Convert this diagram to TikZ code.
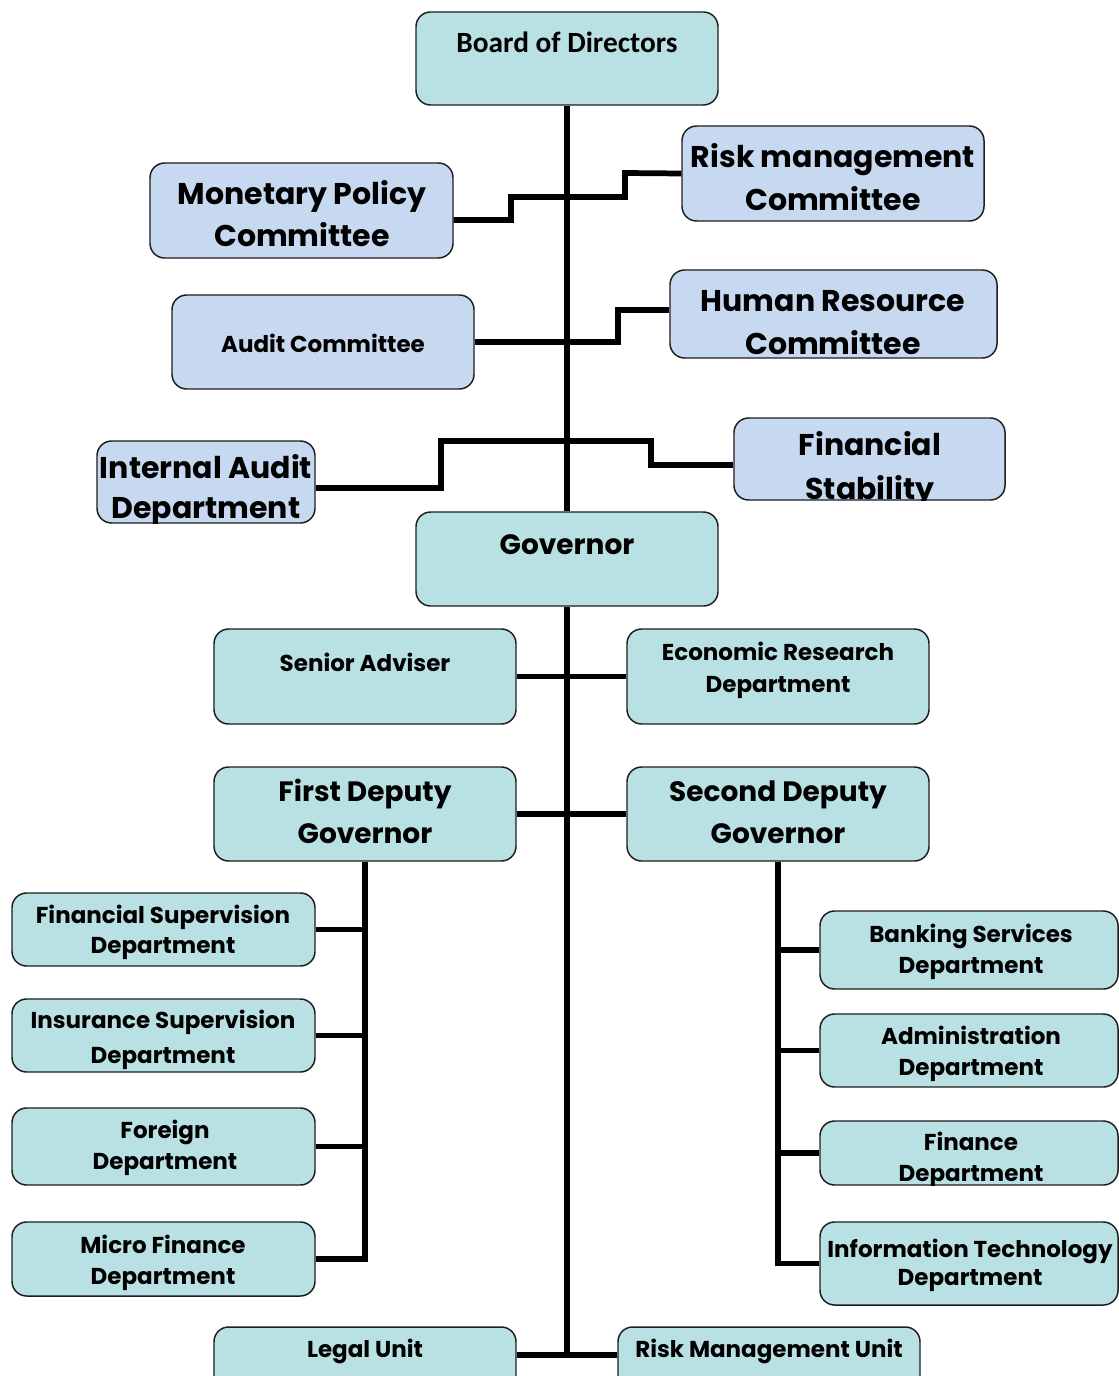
\documentclass[tikz,border=0pt]{standalone}
\usepackage{fontspec}
\setmainfont{Poppins}
\newfontfamily\calib{Carlito}[BoldFont={Carlito Bold}]
\usetikzlibrary{fit}
\definecolor{teal}{RGB}{185,224,227}
\definecolor{lblue}{RGB}{198,217,240}
\definecolor{edge}{RGB}{30,30,30}
\tikzset{
  obox/.style={draw=edge, line width=1.1pt, rounded corners=11pt, inner sep=0pt},
  tbox/.style={obox, fill=teal},
  bbox/.style={obox, fill=lblue},
  conn/.style={line width=4.3pt, black},
  txt/.style={anchor=base, inner sep=0pt},
  fL/.style={font=\fontsize{22.5}{27}\selectfont\bfseries},
  fM/.style={font=\fontsize{21}{25}\selectfont\bfseries},
  fS/.style={font=\fontsize{17.25}{21}\selectfont\bfseries},
  fB/.style={font=\calib\bfseries\fontsize{22}{26}\selectfont},
}
\newcommand\mkbox[6]{\node[#6, fit={(#2,#3)(#4,#5)}] (#1) {};}
\newcommand\clipbox[1]{\clip[rounded corners=11pt] (#1.south west) rectangle (#1.north east);}
\begin{document}
\begin{tikzpicture}[x=0.75pt,y=-0.75pt]
\clip (0,0) rectangle (1119,1376);
\fill[white] (0,0) rectangle (1119,1376);
% boxes
\mkbox{board}{416}{12}{718}{105}{tbox}
\mkbox{mp}{150}{163}{453}{258}{bbox}
\mkbox{risk}{682}{126}{984}{221}{bbox}
\mkbox{audit}{172}{295}{474}{389}{bbox}
\mkbox{hr}{670}{270}{997}{358}{bbox}
\mkbox{ia}{97}{441}{315}{523}{bbox}
\mkbox{fs}{734}{418}{1005}{500}{bbox}
\mkbox{gov}{416}{512}{718}{606}{tbox}
\mkbox{sa}{214}{629}{516}{724}{tbox}
\mkbox{er}{627}{629}{929}{724}{tbox}
\mkbox{fdg}{214}{767}{516}{861}{tbox}
\mkbox{sdg}{627}{767}{929}{861}{tbox}
\mkbox{fsd}{12}{893}{315}{966}{tbox}
\mkbox{isd}{12}{999}{315}{1072}{tbox}
\mkbox{fd}{12}{1108}{315}{1185}{tbox}
\mkbox{mfd}{12}{1222}{315}{1296}{tbox}
\mkbox{bsd}{820}{911}{1118}{989}{tbox}
\mkbox{ad}{820}{1014}{1118}{1087}{tbox}
\mkbox{fin}{820}{1121}{1118}{1185}{tbox}
\mkbox{it}{820}{1222}{1118}{1305}{tbox}
\mkbox{legal}{214}{1327}{516}{1400}{tbox}
\mkbox{rmu}{618}{1327}{920}{1400}{tbox}
% texts
\node[txt,fB] (board-t) at (567,53) {Board of Directors};
\node[txt,fL] (mp-t1) at (302,205) {Monetary Policy};
\node[txt,fL] (mp-t2) at (302,247) {Committee};
\node[txt,fL] (risk-t1) at (833,168) {Risk management};
\node[txt,fL] (risk-t2) at (833,211) {Committee};
\node[txt,fS] (audit-t) at (323,352) {Audit Committee};
\node[txt,fL] (hr-t1) at (833,311) {Human Resource};
\node[txt,fL] (hr-t2) at (833,354) {Committee};
\begin{scope}
\clipbox{ia}
\node[txt,fL] (ia-t1) at (206,478) {Internal Audit};
\node[txt,fL] (ia-t2) at (206,518) {Department};
\end{scope}
\begin{scope}
\clipbox{fs}
\node[txt,fL] (fs-t1) at (870,455) {Financial};
\node[txt,fL] (fs-t2) at (870,499) {Stability};
\end{scope}
\node[txt,fM] (gov-t) at (567,554) {Governor};
\node[txt,fS] (sa-t) at (365,671) {Senior Adviser};
\node[txt,fS] (er-t1) at (778,660) {Economic Research};
\node[txt,fS] (er-t2) at (778,692) {Department};
\node[txt,fM] (fdg-t1) at (365,801) {First Deputy};
\node[txt,fM] (fdg-t2) at (365,843) {Governor};
\node[txt,fM] (sdg-t1) at (778,801) {Second Deputy};
\node[txt,fM] (sdg-t2) at (778,843) {Governor};
\node[txt,fS] (fsd-t1) at (163,923) {Financial Supervision};
\node[txt,fS] (fsd-t2) at (163,953) {Department};
\node[txt,fS] (isd-t1) at (163,1028) {Insurance Supervision};
\node[txt,fS] (isd-t2) at (163,1063) {Department};
\node[txt,fS] (fd-t1) at (165,1138) {Foreign};
\node[txt,fS] (fd-t2) at (165,1169) {Department};
\node[txt,fS] (mfd-t1) at (163,1253) {Micro Finance};
\node[txt,fS] (mfd-t2) at (163,1284) {Department};
\node[txt,fS] (bsd-t1) at (971,942) {Banking Services};
\node[txt,fS] (bsd-t2) at (971,973) {Department};
\node[txt,fS] (ad-t1) at (971,1044) {Administration};
\node[txt,fS] (ad-t2) at (971,1075) {Department};
\begin{scope}
\clipbox{fin}
\node[txt,fS] (fin-t1) at (971,1150) {Finance};
\node[txt,fS] (fin-t2) at (971,1181) {Department};
\end{scope}
\node[txt,fS] (it-t1) at (970,1257) {Information Technology};
\node[txt,fS] (it-t2) at (970,1285) {Department};
\node[txt,fS] (legal-t) at (365,1357) {Legal Unit};
\node[txt,fS] (rmu-t) at (769,1357) {Risk Management Unit};
% connectors
\coordinate (bj) at (567,1355);
\draw[conn] (board.south) -- (gov.north);
\draw[conn] (gov.south) -- (bj);
\draw[conn] (legal.east |- bj) -- (rmu.west |- bj);
\draw[conn] ([yshift=-7.1pt]mp.east) -| (511,197) -| (625,173) -- (risk.west);
\draw[conn] (audit.east) -| (618,310) -- ([yshift=3pt]hr.west);
\draw[conn] ([yshift=-4.5pt]ia.east) -| (441,441) -| (651,465) -- ([yshift=-4.5pt]fs.west);
\draw[conn] (sa.east) -- (er.west);
\draw[conn] (fdg.east) -- (sdg.west);
\draw[conn] (fdg.south) |- (mfd.east);
\draw[conn] (fsd.east) -- (fsd.east -| fdg.south);
\draw[conn] (isd.east) -- (isd.east -| fdg.south);
\draw[conn] (fd.east) -- (fd.east -| fdg.south);
\draw[conn] (sdg.south) |- (it.west);
\draw[conn] (bsd.west) -- (bsd.west -| sdg.south);
\draw[conn] (ad.west) -- (ad.west -| sdg.south);
\draw[conn] (fin.west) -- (fin.west -| sdg.south);
\end{tikzpicture}
\end{document}
